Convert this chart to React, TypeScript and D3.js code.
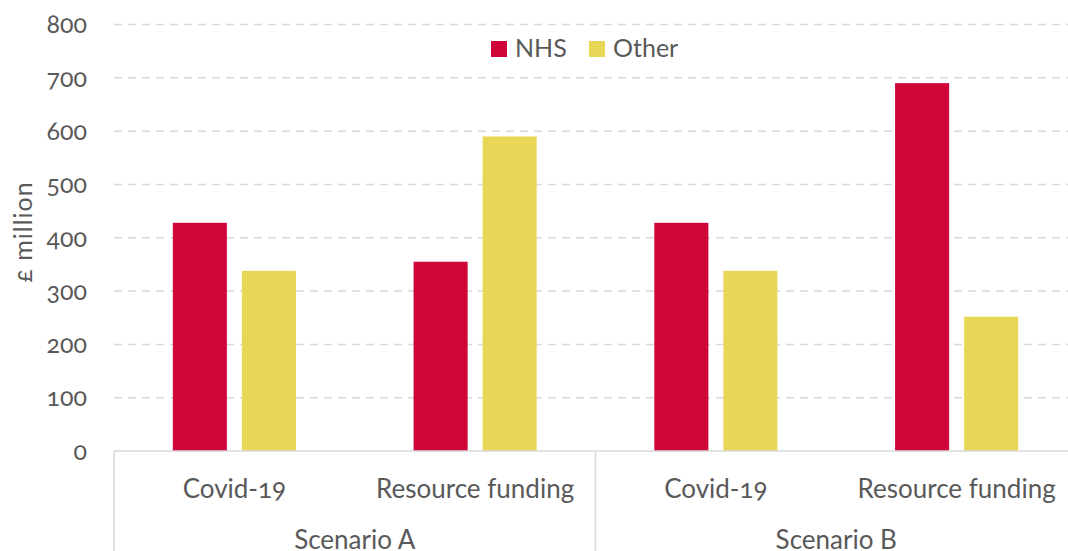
import React from "react";
import * as d3 from "d3";

const scenarios = ["Scenario A", "Scenario B"];
const categories = ["Covid-19", "Resource funding"];
const seriesNames = ["NHS", "Other"];
const colors = ["#cf0538", "#e8d757"];
// values per scenario x category, [NHS, Other]
const nhsValues = [428, 355, 428, 690];
const otherValues = [338, 590, 338, 252];
const yTicks = [0, 100, 200, 300, 400, 500, 600, 700, 800];

const W = 1068;
const H = 551;
const FONT = "Lato, 'Open Sans', sans-serif";
const TXT = "#595959";

export default function App() {
  const left = 114;
  const right = 1077;
  const top = 24.5;
  const bottom = 451;
  const groups: string[] = [];
  scenarios.forEach((s) => categories.forEach((c) => groups.push(s + "|" + c)));
  const x = d3.scaleBand().domain(groups).range([left, right]).paddingInner(0).paddingOuter(0);
  const y = d3.scaleLinear().domain([0, 800]).range([bottom, top]);
  const inner = d3.scaleBand().domain(seriesNames).range([0, x.bandwidth()]).paddingInner(0.217).paddingOuter(0.852);
  const sx = d3.scaleBand().domain(scenarios).range([left, right]);

  return (
    <svg
      width={W}
      height={H}
      style={{ position: "absolute", left: 0, top: 0, background: "#fff", fontVariantNumeric: "oldstyle-nums" }}
      fontFamily={FONT}
    >
      {yTicks.map((t) => (
        <g key={t}>
          {t > 0 && (
            <line x1={left} x2={W} y1={y(t)} y2={y(t)} stroke="#d9d9d9" strokeWidth={1.5} strokeDasharray="8 6" />
          )}
          <text x={87} y={y(t)} dy="0.35em" textAnchor="end" fontSize={25} fill={TXT}>
            {t}
          </text>
        </g>
      ))}
      <text
        transform={`translate(32,232) rotate(-90)`}
        textAnchor="middle"
        fontSize={25}
        letterSpacing={1}
        fill={TXT}
      >
        £ million
      </text>
      {groups.map((g, i) => {
        const vals = [nhsValues[i], otherValues[i]];
        return (
          <g key={g}>
            {seriesNames.map((s, j) => (
              <rect
                key={s}
                x={(x(g) as number) + (inner(s) as number)}
                y={y(vals[j])}
                width={inner.bandwidth()}
                height={bottom - y(vals[j])}
                fill={colors[j]}
              />
            ))}
            <text x={(x(g) as number) + x.bandwidth() / 2} y={498} textAnchor="middle" fontSize={26} fill={TXT}>
              {g.split("|")[1]}
            </text>
          </g>
        );
      })}
      <line x1={left} x2={W} y1={bottom} y2={bottom} stroke="#d9d9d9" strokeWidth={1.5} />
      {scenarios.map((s) => (
        <g key={s}>
          <line x1={sx(s) as number} x2={sx(s) as number} y1={bottom} y2={H} stroke="#d9d9d9" strokeWidth={1.5} />
          <text x={(sx(s) as number) + sx.bandwidth() / 2} y={549} textAnchor="middle" fontSize={26} fill={TXT}>
            {s}
          </text>
        </g>
      ))}
      <g>
        <rect x={491} y={41} width={16} height={16} fill={colors[0]} />
        <text x={515} y={57} fontSize={25} fill={TXT}>
          {seriesNames[0]}
        </text>
        <rect x={589} y={41} width={16} height={16} fill={colors[1]} />
        <text x={613} y={57} fontSize={25} fill={TXT}>
          {seriesNames[1]}
        </text>
      </g>
    </svg>
  );
}
